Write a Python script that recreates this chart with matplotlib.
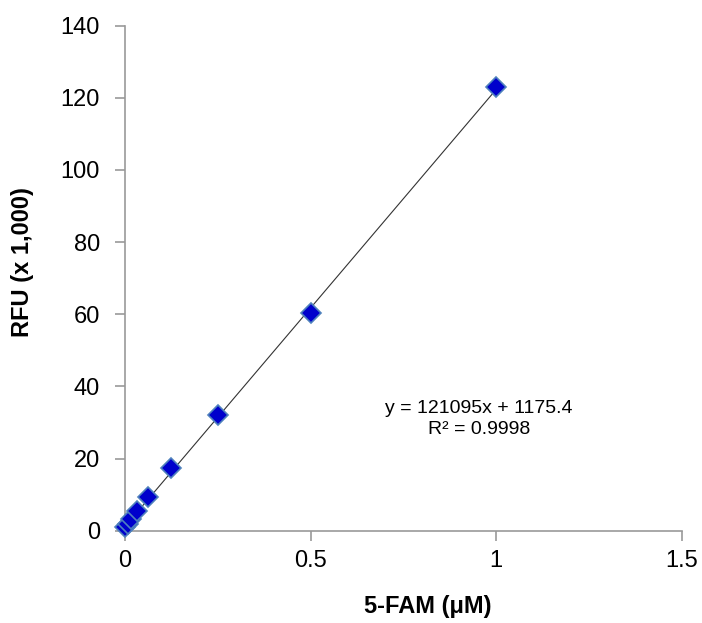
import numpy as np
import matplotlib.pyplot as plt

plt.rcParams['font.family'] = ['Liberation Sans', 'DejaVu Sans']

# 5-FAM concentration (uM) and RFU (x 1,000)
conc = [0, 0.0078125, 0.015625, 0.03125, 0.0625, 0.125, 0.25, 0.5, 1.0]
rfu = [1.0, 2.0, 3.2, 5.4, 9.3, 17.3, 32.0, 60.4, 123.0]
slope, intercept = 121.095, 1.1754  # trendline, in thousands
xticks = [0, 0.5, 1, 1.5]
xtick_labels = ['0', '0.5', '1', '1.5']
yticks = [0, 20, 40, 60, 80, 100, 120, 140]

fig = plt.figure(figsize=(7.02, 6.23), dpi=100)
ax = fig.add_axes([0.178, 0.148, 0.793, 0.811])

xfit = np.array([0, 1.0])
ax.plot(xfit, slope * xfit + intercept, color='#333333', lw=0.8, zorder=2)
ax.plot(conc, rfu, linestyle='none', marker='D', markersize=10,
        markerfacecolor='#0000CC', markeredgecolor='#4F81BD', markeredgewidth=1.2,
        clip_on=False, zorder=3)

ax.set_xlim(0, 1.5)
ax.set_ylim(0, 140)
ax.set_xticks(xticks)
ax.set_xticklabels(xtick_labels)
ax.set_yticks(yticks)

for s in ['top', 'right']:
    ax.spines[s].set_visible(False)
for s in ['left', 'bottom']:
    ax.spines[s].set_color('#999999')
    ax.spines[s].set_linewidth(1.2)
ax.tick_params(axis='both', direction='out', length=7, width=1.2, color='#999999',
               labelsize=17)
ax.tick_params(axis='y', pad=11)
ax.tick_params(axis='x', pad=7)

fig.text(428 / 702, 1 - 607 / 623, '5-FAM (\u03bcM)', fontsize=17, fontweight='bold',
         ha='center', va='center')
fig.text(23 / 702, 1 - 262 / 623, 'RFU (x 1,000)', fontsize=17, fontweight='bold',
         ha='center', va='center', rotation=90)

ax.text(0.953, 30.9, 'y = 121095x + 1175.4\nR\u00b2 = 0.9998', ha='center', va='center',
        fontsize=14, linespacing=1.3)

fig.savefig('out.png', dpi=100)
